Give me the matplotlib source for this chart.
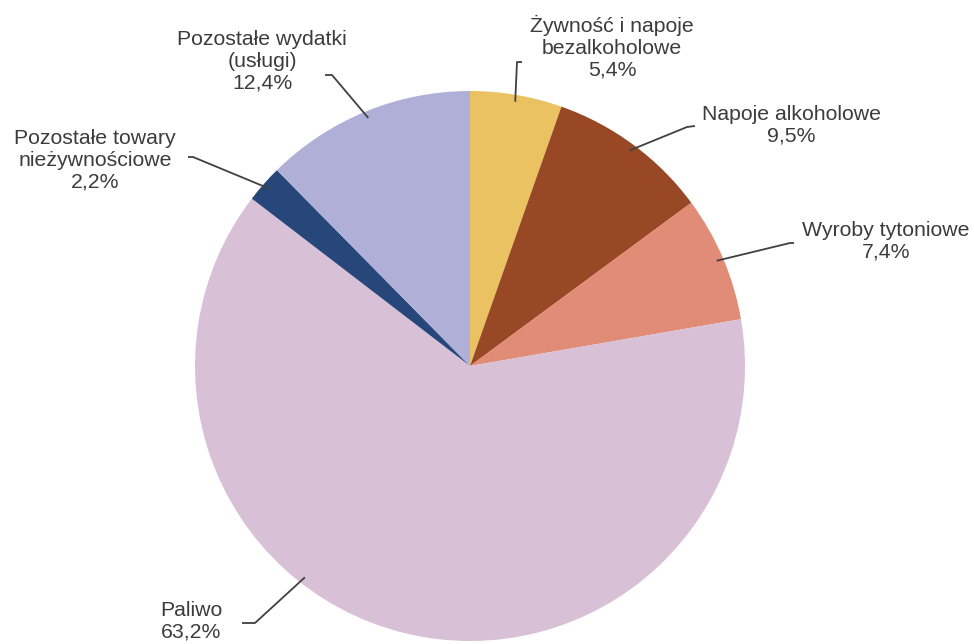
import numpy as np
import matplotlib
matplotlib.use('Agg')
import matplotlib.pyplot as plt

plt.rcParams['font.family'] = ['Liberation Sans', 'DejaVu Sans']

labels = ['Żywność i napoje\nbezalkoholowe', 'Napoje alkoholowe', 'Wyroby tytoniowe',
          'Paliwo', 'Pozostałe towary\nnieżywnościowe', 'Pozostałe wydatki\n(usługi)']
values = [5.4, 9.5, 7.4, 63.2, 2.2, 12.4]
value_labels = ['5,4%', '9,5%', '7,4%', '63,2%', '2,2%', '12,4%']
colors = ['#EAC262', '#994826', '#E18C76', '#D8C1D6', '#27467A', '#B0AFD7']

W, H = 974, 644
fig = plt.figure(figsize=(W / 100, H / 100), dpi=100)
ax = fig.add_axes([0, 0, 1, 1])

cx, cy, R = 470, H - 366, 275
wedges, _ = ax.pie(values, colors=colors, startangle=90, counterclock=False,
                   center=(cx, cy), radius=R, wedgeprops={'linewidth': 0})
ax.set_xlim(0, W)
ax.set_ylim(0, H)
ax.set_aspect('equal')
ax.axis('off')

# label layout: text position (pixel), alignment, elbow point, hook end, anchor angle override
layout = [
    dict(text=(612, 47), ha='center', elbow=(517, 62), end=(522, 62), ang=None),
    dict(text=(791, 125), ha='center', elbow=(687, 127), end=(695, 126), ang=None),
    dict(text=(886, 241), ha='center', elbow=(790, 243), end=(794, 243), ang=None),
    dict(text=(160, 621), ha='left', elbow=(255, 623), end=(242, 623), ang=-128),
    dict(text=(95, 160), ha='center', elbow=(193, 157), end=(188, 157), ang=None),
    dict(text=(262, 61), ha='center', elbow=(332, 75), end=(325, 75), ang=None),
]

tcol = '#3C3C3C'
for w, lab, vl, lay in zip(wedges, labels, value_labels, layout):
    ang = lay['ang'] if lay['ang'] is not None else (w.theta1 + w.theta2) / 2
    a = np.deg2rad(ang)
    r0 = R * 0.975
    x0, y0 = cx + r0 * np.cos(a), cy + r0 * np.sin(a)
    ex, ey = lay['elbow']
    hx, hy = lay['end']
    ax.plot([x0, ex, hx], [y0, H - ey, H - hy], color='#404040', lw=1.3,
            solid_capstyle='butt', zorder=3)
    tx, ty = lay['text']
    ax.text(tx, H - ty, lab + '\n' + vl, ha=lay['ha'], va='center',
            fontsize=15.3, color=tcol, linespacing=1.18, multialignment='center')

fig.savefig('out.png', dpi=100)
